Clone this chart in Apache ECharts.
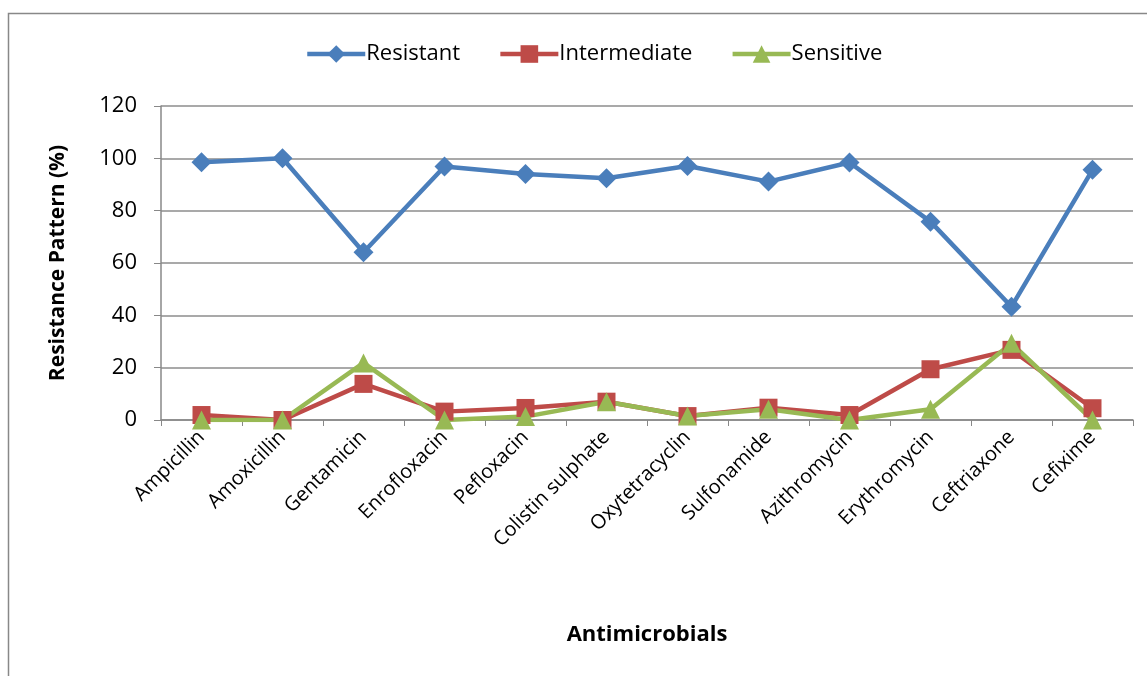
<!DOCTYPE html>
<html>
<head>
<meta charset="utf-8">
<script src="https://cdn.jsdelivr.net/npm/echarts@6/dist/echarts.min.js"></script>
<style>
  html, body { margin: 0; padding: 0; background: #fff; }
  #chart { width: 1147px; height: 676px; }
</style>
</head>
<body>
<div id="chart"></div>
<script>
// Antimicrobial susceptibility (%) per drug
const categories = ['Ampicillin', 'Amoxicillin', 'Gentamicin', 'Enrofloxacin', 'Pefloxacin',
  'Colistin sulphate', 'Oxytetracyclin', 'Sulfonamide', 'Azithromycin', 'Erythromycin',
  'Ceftriaxone', 'Cefixime'];
const resistant    = [98.5, 100, 64.1, 96.9, 94.0, 92.4, 97.1, 91.1, 98.4, 75.8, 43.3, 95.6];
const intermediate = [1.9, 0, 13.8, 3.2, 4.6, 7.0, 1.5, 4.7, 1.9, 19.4, 26.8, 4.5];
const sensitive    = [0, 0, 21.8, 0, 1.3, 7.0, 1.5, 4.1, 0, 4.1, 29.3, 0];
const yTicks = { min: 0, max: 120, interval: 20 };

const FONT = '"Open Sans", Lato, sans-serif';
const chart = echarts.init(document.getElementById('chart'));

function lineSeries(name, data, color, symbol, size) {
  return {
    name, type: 'line', data,
    symbol, symbolSize: size,
    lineStyle: { color, width: 4.5 },
    itemStyle: { color },
    emphasis: { disabled: true },
    animation: false
  };
}

chart.setOption({
  animation: false,
  graphic: [{
    type: 'rect', z: -1,
    shape: { x: 8.5, y: 13.5, width: 1300, height: 800 },
    style: { fill: 'none', stroke: '#888', lineWidth: 1.5 }
  }],
  legend: {
    top: 38, left: 300,
    itemWidth: 58, itemHeight: 22, itemGap: 38,
    lineStyle: { width: 4.5 },
    textStyle: { fontFamily: FONT, fontSize: 22, color: '#000', padding: [0, 0, 0, -4] },
    data: ['Resistant', 'Intermediate', 'Sensitive']
  },
  grid: { left: 161, right: 14, top: 106, bottom: 256, containLabel: false },
  xAxis: {
    type: 'category', data: categories, boundaryGap: true,
    name: 'Antimicrobials', nameLocation: 'middle', nameGap: 204,
    nameTextStyle: { fontFamily: FONT, fontSize: 22, fontWeight: 'bold', color: '#000' },
    axisLine: { lineStyle: { color: '#888', width: 1.5 } },
    axisTick: { show: true, interval: 0, length: 6, lineStyle: { color: '#888' } },
    axisLabel: { interval: 0, rotate: 45, fontFamily: FONT, fontSize: 20, color: '#000', margin: 14 }
  },
  yAxis: {
    type: 'value', min: yTicks.min, max: yTicks.max, interval: yTicks.interval,
    name: 'Resistance Pattern (%)', nameLocation: 'middle', nameGap: 92,
    nameTextStyle: { fontFamily: FONT, fontSize: 21, fontWeight: 'bold', color: '#000' },
    axisLine: { show: true, lineStyle: { color: '#888', width: 1.5 } },
    axisTick: { show: true, length: 7, lineStyle: { color: '#888' } },
    axisLabel: { fontFamily: FONT, fontSize: 22, color: '#000', margin: 24 },
    splitLine: { lineStyle: { color: '#8c8c8c', width: 1.5 } }
  },
  series: [
    lineSeries('Resistant', resistant, '#4A7EBB', 'diamond', 20),
    lineSeries('Intermediate', intermediate, '#BE4B48', 'rect', 18),
    lineSeries('Sensitive', sensitive, '#98B954', 'triangle', 19)
  ]
});
</script>
</body>
</html>
